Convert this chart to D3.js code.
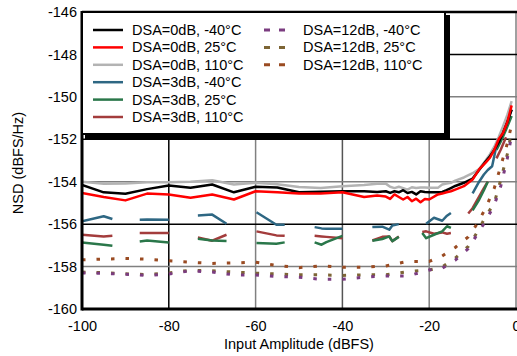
<!DOCTYPE html>
<html><head><meta charset="utf-8">
<script src="https://cdn.jsdelivr.net/npm/d3@7"></script>
<style>body{margin:0;background:#fff}svg{display:block;font-family:"Liberation Sans",Arial,sans-serif}</style>
</head><body><svg id="c" width="517" height="356"></svg>
<script>
// ---- data ----
const xTicks = [-100, -80, -60, -40, -20, 0];
const yTicks = [-146, -148, -150, -152, -154, -156, -158, -160];

const x0 = [-100,-95,-90,-85,-80,-75,-70,-65,-60,-55,-50,-45,-40,-35,-32,-30,-29,-28,-27,-26,-25,-24,-23,-22,-21,-20,-18,-17,-16,-15,-14,-12,-10,-8.5,-7,-6,-5,-4,-3,-2,-1];
const dsa0_m40 = [-154.15,-154.5,-154.57,-154.35,-154.18,-154.28,-154.13,-154.5,-154.24,-154.27,-154.5,-154.47,-154.45,-154.45,-154.48,-154.45,-154.53,-154.45,-154.5,-154.4,-154.53,-154.48,-154.6,-154.45,-154.48,-154.5,-154.5,-154.48,-154.4,-154.3,-154.2,-154.05,-153.85,-153.45,-153.05,-152.8,-152.5,-152.15,-151.7,-151.2,-150.6];
const dsa0_25 = [-154.53,-154.72,-154.88,-154.56,-154.6,-154.76,-154.6,-154.84,-154.45,-154.5,-154.56,-154.55,-154.5,-154.72,-154.65,-154.7,-154.81,-154.6,-154.72,-154.84,-154.72,-154.92,-154.8,-154.97,-154.81,-154.84,-154.6,-154.56,-154.5,-154.45,-154.37,-154.21,-153.9,-153.42,-153.1,-152.87,-152.5,-152.0,-151.7,-151.2,-150.4];
const dsa0_110 = [-154.0,-154.1,-154.08,-154.03,-154.03,-154.0,-153.93,-154.13,-154.05,-154.12,-154.25,-154.3,-154.21,-154.15,-154.1,-154.09,-154.24,-154.3,-154.24,-154.3,-154.37,-154.26,-154.3,-154.27,-154.27,-154.29,-154.29,-154.13,-154.08,-154.05,-153.95,-153.8,-153.6,-153.4,-153.0,-152.7,-152.35,-151.9,-151.4,-150.85,-150.2];

const x3 = [-100,-95,-93,-90,-86.7,-85,-80,-77,-73.3,-70,-66.7,-63,-59.8,-55.2,-53.3,-50,-46.4,-44.8,-43.7,-40,-37,-33.1,-30.8,-29.2,-28.5,-27,-24,-21.6,-20.7,-18.9,-17,-15.9,-15,-13,-11,-10,-8.5,-7.4,-6.5,-5.5,-4.5,-3.5,-2.3,-1];
const dsa3_m40 = [-155.87,-155.63,-155.76,null,-155.79,-155.78,-155.79,null,-155.59,-155.55,-155.98,null,-155.44,-156.03,-156.03,null,-156.14,-156.2,-156.22,-156.22,null,-156.14,-156.12,-156.26,-156.06,-156.0,null,null,-155.98,-155.7,-155.84,-155.6,-155.47,null,null,-154.55,-154.0,-153.66,-153.45,-153.27,-152.3,-151.9,-151.3,-150.6];
const dsa3_25 = [-156.86,-156.97,-157.02,null,-156.82,-156.77,-156.86,null,-156.69,-156.77,-156.79,null,-156.89,-156.92,-156.86,null,-156.86,-156.97,-156.85,-156.55,null,-156.78,-156.7,-156.58,-156.8,-156.6,null,-156.42,-156.66,-156.5,-156.34,-156.1,-156.18,null,null,-155.35,-154.85,-154.4,-154.0,null,-152.5,-152.1,-151.55,-150.9];
const dsa3_110 = [-156.5,-156.58,-156.55,null,-156.42,-156.42,-156.42,null,-156.63,-156.78,-156.5,null,-156.34,-156.53,-156.55,null,-156.55,-156.58,-156.6,-156.66,null,-156.77,-156.6,-156.58,-156.8,-156.58,null,-156.37,-156.34,-156.45,-156.39,-156.45,-156.42,null,-155.5,-155.25,-154.7,-154.3,-154.0,null,-152.9,-152.48,-151.9,null];

const x12 = [-100,-95,-90,-85,-80,-75,-70,-65,-60,-55,-50,-45,-40,-35,-30,-25,-20,-17,-14,-11,-9,-7,-5,-3.5,-2,-1];
const dsa12_m40 = [-158.3,-158.32,-158.36,-158.42,-158.35,-158.2,-158.26,-158.39,-158.4,-158.47,-158.5,-158.6,-158.6,-158.5,-158.44,-158.45,-158.16,-158.08,-157.7,-157.15,-156.5,-155.85,-155.1,-154.2,-152.9,-151.8];
const dsa12_25 = [-158.26,-158.29,-158.34,-158.38,-158.3,-158.17,-158.2,-158.26,-158.31,-158.35,-158.39,-158.39,-158.42,-158.39,-158.39,-158.24,-158.16,-158.02,-157.6,-157.05,-156.4,-155.65,-155.0,-153.9,-152.7,-151.6];
const dsa12_110 = [-157.68,-157.65,-157.62,-157.65,-157.73,-157.8,-157.85,-157.83,-157.79,-157.95,-158.05,-157.97,-158.03,-158.03,-157.97,-157.76,-157.76,-157.5,-157.1,-156.6,-156.0,-155.25,-154.3,-153.25,-152.2,-151.3];

const seriesNames = ["DSA=0dB, -40°C","DSA=0dB, 25°C","DSA=0dB, 110°C","DSA=3dB, -40°C","DSA=3dB, 25°C","DSA=3dB, 110°C","DSA=12dB, -40°C","DSA=12dB, 25°C","DSA=12dB, 110°C"];

// ---- build ----
const series = [
  {name: seriesNames[0], xs: x0, ys: dsa0_m40, color: "#000000", dash: null},
  {name: seriesNames[1], xs: x0, ys: dsa0_25, color: "#ff0000", dash: null},
  {name: seriesNames[2], xs: x0, ys: dsa0_110, color: "#b3b3b3", dash: null},
  {name: seriesNames[3], xs: x3, ys: dsa3_m40, color: "#2e6783", dash: null},
  {name: seriesNames[4], xs: x3, ys: dsa3_25, color: "#2a774a", dash: null},
  {name: seriesNames[5], xs: x3, ys: dsa3_110, color: "#a33c3c", dash: null},
  {name: seriesNames[6], xs: x12, ys: dsa12_m40, color: "#7b3c80", dash: "3.5,11"},
  {name: seriesNames[7], xs: x12, ys: dsa12_25, color: "#7d6535", dash: "3.5,11"},
  {name: seriesNames[8], xs: x12, ys: dsa12_110, color: "#9a4b22", dash: "3.5,11"}
];

const svg = d3.select("#c");
const L = 82, R = 516, T = 12, B = 309;
const x = d3.scaleLinear().domain([-100, 0]).range([L, R]);
const y = d3.scaleLinear().domain([-160, -146]).range([B, T]);

svg.append("defs").append("clipPath").attr("id","clip")
  .append("rect").attr("x", L).attr("y", T).attr("width", R - L + 2).attr("height", B - T);

// grid
const vGrid = [{v:-80,c:"#000"},{v:-60,c:"#808080"},{v:-40,c:"#555"},{v:-20,c:"#808080"},{v:0,c:"#808080"}];
const hGrid = [{v:-148,c:"#000"},{v:-150,c:"#808080"},{v:-152,c:"#000"},{v:-154,c:"#808080"},{v:-156,c:"#000"},{v:-158,c:"#808080"}];
svg.append("g").selectAll("line").data(vGrid).join("line")
  .attr("x1", d => x(d.v)).attr("x2", d => x(d.v)).attr("y1", T).attr("y2", B)
  .attr("stroke", d => d.c).attr("stroke-width", 1.5);
svg.append("g").selectAll("line").data(hGrid).join("line")
  .attr("x1", L).attr("x2", R + 2).attr("y1", d => y(d.v)).attr("y2", d => y(d.v))
  .attr("stroke", d => d.c).attr("stroke-width", 1.5);

// series
const line = d3.line().defined(d => d[1] != null).x(d => x(d[0])).y(d => y(d[1]));
const g = svg.append("g").attr("clip-path", "url(#clip)");
const order = [8,7,6,5,4,3,2,0,1];
order.forEach(i => {
  const s = series[i];
  const pts = s.xs.map((v, k) => [v, s.ys[k]]);
  g.append("path").attr("d", line(pts)).attr("fill", "none")
    .attr("stroke", s.color).attr("stroke-width", s.dash ? 3 : 2.5)
    .attr("stroke-dasharray", s.dash).attr("stroke-linejoin", "round");
});

// frame
svg.append("line").attr("x1", L).attr("x2", 517).attr("y1", T).attr("y2", T).attr("stroke", "#000").attr("stroke-width", 2.5);
svg.append("line").attr("x1", L).attr("x2", 517).attr("y1", B).attr("y2", B).attr("stroke", "#000").attr("stroke-width", 3);
svg.append("line").attr("x1", L).attr("x2", L).attr("y1", T - 1).attr("y2", B + 1.5).attr("stroke", "#000").attr("stroke-width", 3);

// axes labels via d3 axes (no domain/ticks lines)
const fmt = d => String(d);
const ax = svg.append("g").attr("transform", `translate(0,${B})`)
  .call(d3.axisBottom(x).tickValues(xTicks).tickSize(0).tickPadding(11).tickFormat(fmt));
const ay = svg.append("g").attr("transform", `translate(${L},0)`)
  .call(d3.axisLeft(y).tickValues(yTicks).tickSize(0).tickPadding(6).tickFormat(fmt));
[ax, ay].forEach(a => {
  a.select(".domain").remove();
  a.selectAll("text").attr("font-size", "14.5px").attr("fill", "#000")
    .attr("font-family", "'Liberation Sans', Arial, sans-serif");
});
ax.selectAll("text").attr("dy", "0.71em").attr("y", 12);
ay.selectAll("text").attr("x", -5);

svg.append("text").attr("x", 299).attr("y", 349).attr("text-anchor", "middle")
  .attr("font-size", "14.5px").text("Input Amplitude (dBFS)");
svg.append("text").attr("transform", "translate(23,163) rotate(-90)").attr("text-anchor", "middle")
  .attr("font-size", "14.5px").text("NSD (dBFS/Hz)");

// legend
const lg = svg.append("g");
lg.append("rect").attr("x", L + 3).attr("y", T + 3).attr("width", 447 - L).attr("height", 136 - T).attr("fill", "#000");
lg.append("rect").attr("x", L).attr("y", T).attr("width", 445 - L).attr("height", 134 - T)
  .attr("fill", "#fff").attr("stroke", "#000").attr("stroke-width", 2);
const rowY = k => 30 + k * 17.4;
series.forEach((s, i) => {
  const col = i < 6 ? 0 : 1;
  const k = i < 6 ? i : i - 6;
  const yy = rowY(k);
  if (col === 0) {
    lg.append("line").attr("x1", 93).attr("x2", 123).attr("y1", yy).attr("y2", yy)
      .attr("stroke", s.color).attr("stroke-width", 2.5);
    lg.append("text").attr("x", 132).attr("y", yy + 5).attr("font-size", "14.5px").text(s.name);
  } else {
    lg.append("line").attr("x1", 264).attr("x2", 286).attr("y1", yy).attr("y2", yy)
      .attr("stroke", s.color).attr("stroke-width", 3).attr("stroke-dasharray", "6,9");
    lg.append("text").attr("x", 303).attr("y", yy + 5).attr("font-size", "14.5px").text(s.name);
  }
});
</script></body></html>
